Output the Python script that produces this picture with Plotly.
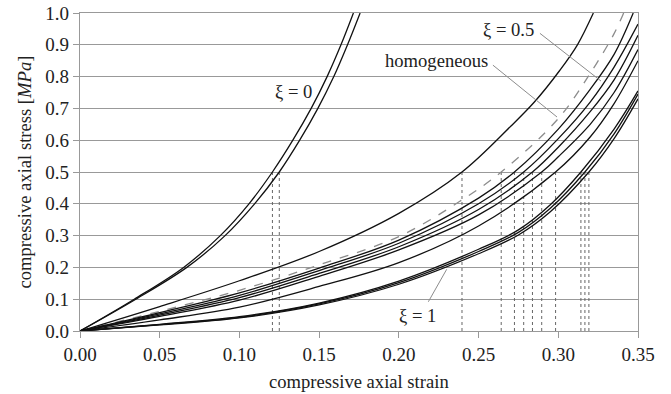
import plotly.graph_objects as go

# ---- data (strain, stress [MPa]) ----
strain_xi0_a = [0, 0.034, 0.065, 0.088, 0.106, 0.1207, 0.1335, 0.145, 0.155, 0.1637, 0.1715]
stress_xi0_a = [0, 0.1, 0.2, 0.3, 0.4, 0.5, 0.6, 0.7, 0.8, 0.9, 1.0]
strain_xi0_b = [0, 0.035, 0.067, 0.091, 0.1095, 0.125, 0.1378, 0.1492, 0.1592, 0.1678, 0.1757]
stress_xi0_b = [0, 0.1, 0.2, 0.3, 0.4, 0.5, 0.6, 0.7, 0.8, 0.9, 1.0]

strain_top = [0, 0.05, 0.10, 0.15, 0.20, 0.2396, 0.27, 0.285, 0.301, 0.312, 0.322]
stress_top = [0, 0.077, 0.158, 0.25, 0.37, 0.5, 0.643, 0.72, 0.82, 0.9, 1.0]

strain_hom = [0, 0.05, 0.10, 0.15, 0.20, 0.238, 0.2642, 0.30, 0.32, 0.335, 0.341]
stress_hom = [0, 0.062, 0.128, 0.208, 0.297, 0.407, 0.5, 0.668, 0.81, 0.935, 1.0]

strain_s1 = [0, 0.05, 0.10, 0.15, 0.20, 0.25, 0.2725, 0.30, 0.32, 0.335, 0.347]
stress_s1 = [0, 0.058, 0.12, 0.198, 0.286, 0.418, 0.5, 0.635, 0.76, 0.87, 1.0]
strain_s2 = [0, 0.05, 0.10, 0.15, 0.20, 0.25, 0.2783, 0.30, 0.32, 0.335, 0.35]
stress_s2 = [0, 0.054, 0.112, 0.19, 0.276, 0.40, 0.5, 0.605, 0.72, 0.83, 0.965]
strain_s3 = [0, 0.05, 0.10, 0.15, 0.20, 0.25, 0.2838, 0.30, 0.32, 0.335, 0.35]
stress_s3 = [0, 0.05, 0.105, 0.181, 0.265, 0.382, 0.5, 0.578, 0.69, 0.79, 0.93]
strain_s4 = [0, 0.05, 0.10, 0.15, 0.20, 0.25, 0.2896, 0.30, 0.32, 0.335, 0.35]
stress_s4 = [0, 0.046, 0.097, 0.172, 0.255, 0.365, 0.5, 0.548, 0.65, 0.75, 0.885]
strain_s5 = [0, 0.05, 0.10, 0.15, 0.20, 0.25, 0.2983, 0.32, 0.335, 0.35]
stress_s5 = [0, 0.035, 0.075, 0.14, 0.215, 0.33, 0.5, 0.61, 0.715, 0.85]

strain_x1 = [0, 0.05, 0.10, 0.15, 0.20, 0.25, 0.275, 0.295, 0.3142, 0.335, 0.35]
stress_x1 = [0, 0.021, 0.045, 0.088, 0.157, 0.257, 0.318, 0.397, 0.5, 0.635, 0.755]
strain_x2 = [0, 0.05, 0.10, 0.15, 0.20, 0.25, 0.275, 0.295, 0.3167, 0.335, 0.35]
stress_x2 = [0, 0.020, 0.043, 0.085, 0.152, 0.25, 0.31, 0.386, 0.5, 0.62, 0.745]
strain_x3 = [0, 0.05, 0.10, 0.15, 0.20, 0.25, 0.275, 0.295, 0.3192, 0.335, 0.35]
stress_x3 = [0, 0.019, 0.041, 0.082, 0.147, 0.243, 0.302, 0.375, 0.5, 0.605, 0.73]

x_ticks = [0.00, 0.05, 0.10, 0.15, 0.20, 0.25, 0.30, 0.35]
y_ticks = [0.0, 0.1, 0.2, 0.3, 0.4, 0.5, 0.6, 0.7, 0.8, 0.9, 1.0]
marker_stress = 0.5

solid_series = [
    (strain_xi0_a, stress_xi0_a), (strain_xi0_b, stress_xi0_b),
    (strain_top, stress_top),
    (strain_s1, stress_s1), (strain_s2, stress_s2), (strain_s3, stress_s3),
    (strain_s4, stress_s4), (strain_s5, stress_s5),
    (strain_x1, stress_x1), (strain_x2, stress_x2), (strain_x3, stress_x3),
]
all_series = solid_series + [(strain_hom, stress_hom)]

FONT = "Liberation Serif, Times New Roman, serif"
fig = go.Figure()

# dotted verticals at the strain where each curve reaches 0.5 MPa
vx, vy = [], []
for sx, sy in all_series:
    e = sx[sy.index(marker_stress)]
    vx += [e, e, None]
    vy += [0, marker_stress, None]
fig.add_trace(go.Scatter(x=vx, y=vy, mode="lines",
                         line=dict(color="#666666", width=1, dash="dot"),
                         hoverinfo="skip", showlegend=False))

fig.add_trace(go.Scatter(x=strain_hom, y=stress_hom, mode="lines",
                         line=dict(color="#8c8c8c", width=1.3, dash="dash", shape="spline"),
                         showlegend=False))
for sx, sy in solid_series:
    fig.add_trace(go.Scatter(x=sx, y=sy, mode="lines",
                             line=dict(color="#111111", width=1.3, shape="spline"),
                             showlegend=False))

axis_common = dict(showline=True, linecolor="#999999", linewidth=1.4, mirror=True,
                   ticks="outside", ticklen=6, tickcolor="#999999", tickwidth=1.4,
                   tickfont=dict(family=FONT, size=19, color="#222222"), zeroline=False,
                   automargin=False, ticklabeloverflow="allow")
fig.update_xaxes(range=[0, 0.35], tickvals=x_ticks, tickformat=".2f",
                 showgrid=False, **axis_common)
fig.update_yaxes(range=[0, 1.0], tickvals=y_ticks, tickformat=".1f",
                 showgrid=True, gridcolor="#999999", gridwidth=1.4, **axis_common)

tf = dict(family=FONT, size=18.6, color="#222222")
annotations = [
    dict(text="compressive axial strain", x=0.5, y=-0.16, xref="paper", yref="paper",
         showarrow=False, font=tf, xanchor="center", yanchor="middle"),
    dict(text="compressive axial stress [<i>MPa</i>]", x=-0.0986, y=0.5016,
         xref="paper", yref="paper", showarrow=False, font=tf, textangle=-90,
         xanchor="center", yanchor="middle"),
    dict(text="ξ = 0", x=0.1336, y=0.752, showarrow=False, font=tf),
    dict(text="ξ = 0.5", x=0.269, y=0.947, showarrow=False, font=tf),
    dict(text="homogeneous", x=0.2233, y=0.852, showarrow=False, font=tf),
    dict(text="ξ = 1", x=0.212, y=0.05, showarrow=False, font=tf),
]
shapes = [
    dict(type="line", x0=0.2885, y0=0.936, x1=0.3268, y1=0.786, line=dict(color="#8c8c8c", width=1)),
    dict(type="line", x0=0.259, y0=0.836, x1=0.2992, y1=0.673, line=dict(color="#8c8c8c", width=1)),
    dict(type="line", x0=0.2185, y0=0.092, x1=0.230, y1=0.194, line=dict(color="#8c8c8c", width=1)),
]

fig.update_layout(width=671, height=394, margin=dict(l=80, r=33, t=13, b=63, autoexpand=False),
                  plot_bgcolor="white", paper_bgcolor="white",
                  annotations=annotations, shapes=shapes, showlegend=False)
# remove the default page margin so the figure sits at the window's top-left corner
fig.write_html("out.html", config={"displayModeBar": False},
               post_script="document.body.style.margin='0';")
